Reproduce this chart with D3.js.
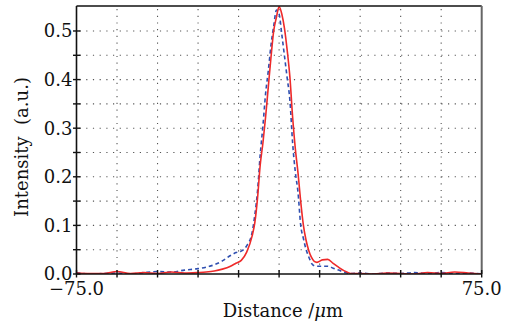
<!DOCTYPE html>
<html>
<head>
<meta charset="utf-8">
<script src="https://cdn.jsdelivr.net/npm/d3@7"></script>
<style>
  html, body { margin: 0; padding: 0; background: #fff; }
  text { font-family: 'DejaVu Serif', 'Liberation Serif', serif; fill: #111; }
</style>
</head>
<body>
<div id="chart"></div>
<script>
// distance in um, shared by both profiles
const distance = [-75, -70, -65, -60, -55, -50, -45, -40, -35, -30, -27, -24, -21, -18, -16, -14, -12, -10, -9, -8, -7, -6, -5, -4, -3, -2, -1, 0,
  1, 2, 3, 4, 5, 6, 7, 8, 9, 10, 11, 12, 13, 14, 16, 18, 20, 22, 24, 27, 30, 35, 40, 45, 50, 55, 60, 65, 70, 75];

// red solid profile
const redIntensity = [0.002, 0.001, 0.001, 0.005, 0.001, 0.003, 0.001, 0.004, 0.002, 0.003, 0.004, 0.006, 0.010, 0.016, 0.022, 0.028, 0.045, 0.078, 0.105, 0.155, 0.224, 0.269, 0.323, 0.385, 0.446, 0.500, 0.528, 0.550,
  0.535, 0.505, 0.460, 0.405, 0.323, 0.258, 0.208, 0.149, 0.100, 0.069, 0.048, 0.034, 0.026, 0.024, 0.029, 0.030, 0.022, 0.014, 0.007, 0.001, 0.001, 0.000, 0.002, 0.001, 0.000, 0.003, 0.001, 0.004, 0.002, 0.000];

// blue dashed profile
const blueIntensity = [0.003, 0.000, 0.001, 0.002, 0.000, 0.003, 0.005, 0.004, 0.008, 0.011, 0.014, 0.019, 0.027, 0.038, 0.044, 0.047, 0.058, 0.085, 0.121, 0.170, 0.245, 0.304, 0.371, 0.418, 0.471, 0.510, 0.543, 0.535,
  0.493, 0.448, 0.403, 0.357, 0.270, 0.210, 0.168, 0.100, 0.073, 0.050, 0.035, 0.022, 0.017, 0.016, 0.016, 0.016, 0.012, 0.008, 0.004, 0.001, 0.002, 0.000, 0.002, 0.001, 0.003, 0.001, 0.003, 0.001, 0.002, 0.000];

const yTicks = [0, 0.05, 0.1, 0.15, 0.2, 0.25, 0.3, 0.35, 0.4, 0.45, 0.5];
const yLabels = [0, 0.1, 0.2, 0.3, 0.4, 0.5];
const xTicks = [-75, -60, -45, -30, -15, 0, 15, 30, 45, 60, 75];
const xLabels = [-75, 75];

drawProfiles(document.getElementById('chart'));

function drawProfiles(container) {
  const w = 510;
  const h = 324;
  const left = 76.5, right = 481.7, top = 6, bottom = 274;

  const x = d3.scaleLinear().domain([-75, 75]).range([left, right]);
  const y = d3.scaleLinear().domain([0, 0.5514]).range([bottom, top]);

  const svg = d3.select(container).append('svg')
    .attr('width', w)
    .attr('height', h);

  svg.append('clipPath').attr('id', 'plotclip')
    .append('rect')
    .attr('x', left).attr('y', top)
    .attr('width', right - left).attr('height', bottom - top);

  // dotted grid
  const grid = svg.append('g')
    .attr('stroke', '#555')
    .attr('stroke-width', 1.1)
    .attr('stroke-dasharray', '1.2,5.5');
  grid.selectAll('line.h')
    .data(yTicks.filter(function (d) { return d > 0; }))
    .enter().append('line')
    .attr('x1', left + 3).attr('x2', right)
    .attr('y1', function (d) { return y(d); })
    .attr('y2', function (d) { return y(d); });
  grid.selectAll('line.v')
    .data(xTicks.filter(function (d) { return d > -75 && d < 75; }))
    .enter().append('line')
    .attr('y1', top + 3).attr('y2', bottom)
    .attr('x1', function (d) { return x(d); })
    .attr('x2', function (d) { return x(d); });

  // profiles
  const line = d3.line()
    .x(function (d, i) { return x(distance[i]); })
    .y(function (d) { return y(d); })
    .curve(d3.curveMonotoneX);

  const plot = svg.append('g').attr('clip-path', 'url(#plotclip)');
  plot.append('path')
    .datum(blueIntensity)
    .attr('fill', 'none')
    .attr('stroke', '#2f4fb0')
    .attr('stroke-width', 1.6)
    .attr('stroke-dasharray', '4,3')
    .attr('d', line);
  plot.append('path')
    .datum(redIntensity)
    .attr('fill', 'none')
    .attr('stroke', '#ee2a2a')
    .attr('stroke-width', 1.6)
    .attr('d', line);

  // frame
  svg.append('line')
    .attr('x1', left).attr('x2', right).attr('y1', top).attr('y2', top)
    .attr('stroke', '#111').attr('stroke-width', 1.5);
  svg.append('line')
    .attr('x1', right).attr('x2', right).attr('y1', top).attr('y2', bottom)
    .attr('stroke', '#666').attr('stroke-width', 2);

  // y axis
  const yAxis = svg.append('g');
  yAxis.append('line')
    .attr('x1', left).attr('x2', left).attr('y1', top).attr('y2', bottom)
    .attr('stroke', '#111').attr('stroke-width', 1.6);
  yAxis.selectAll('line.tick')
    .data(yTicks)
    .enter().append('line')
    .attr('x1', left - 3.5).attr('x2', left + 4)
    .attr('y1', function (d) { return y(d); })
    .attr('y2', function (d) { return y(d); })
    .attr('stroke', '#111').attr('stroke-width', 1.4);
  yAxis.selectAll('text')
    .data(yLabels)
    .enter().append('text')
    .attr('x', left - 4)
    .attr('y', function (d) { return y(d); })
    .attr('dy', '0.36em')
    .attr('text-anchor', 'end')
    .style('font-size', '18px')
    .text(function (d) { return d.toFixed(1); });

  // x axis
  const xAxis = svg.append('g');
  xAxis.append('line')
    .attr('x1', left).attr('x2', right).attr('y1', bottom).attr('y2', bottom)
    .attr('stroke', '#111').attr('stroke-width', 1.6);
  xAxis.selectAll('line.tick')
    .data(xTicks)
    .enter().append('line')
    .attr('y1', bottom - 4).attr('y2', bottom + 3.5)
    .attr('x1', function (d) { return x(d); })
    .attr('x2', function (d) { return x(d); })
    .attr('stroke', '#111').attr('stroke-width', 1.4);
  xAxis.selectAll('text')
    .data(xLabels)
    .enter().append('text')
    .attr('x', function (d) { return x(d); })
    .attr('y', 295)
    .attr('text-anchor', 'middle')
    .style('font-size', '18px')
    .text(function (d) { return d3.format('.1f')(d).replace('-', '\u2212'); });

  // axis titles
  const xTitle = svg.append('text')
    .attr('x', 283)
    .attr('y', 317)
    .attr('text-anchor', 'middle')
    .style('font-size', '18px');
  xTitle.append('tspan').text('Distance /');
  xTitle.append('tspan').style('font-style', 'italic').text('\u03bc');
  xTitle.append('tspan').text('m');

  svg.append('text')
    .attr('transform', 'translate(28,147) rotate(-90)')
    .attr('text-anchor', 'middle')
    .style('font-size', '18px')
    .style('white-space', 'pre')
    .text('Intensity  (a.u.)');
}
</script>
</body>
</html>
